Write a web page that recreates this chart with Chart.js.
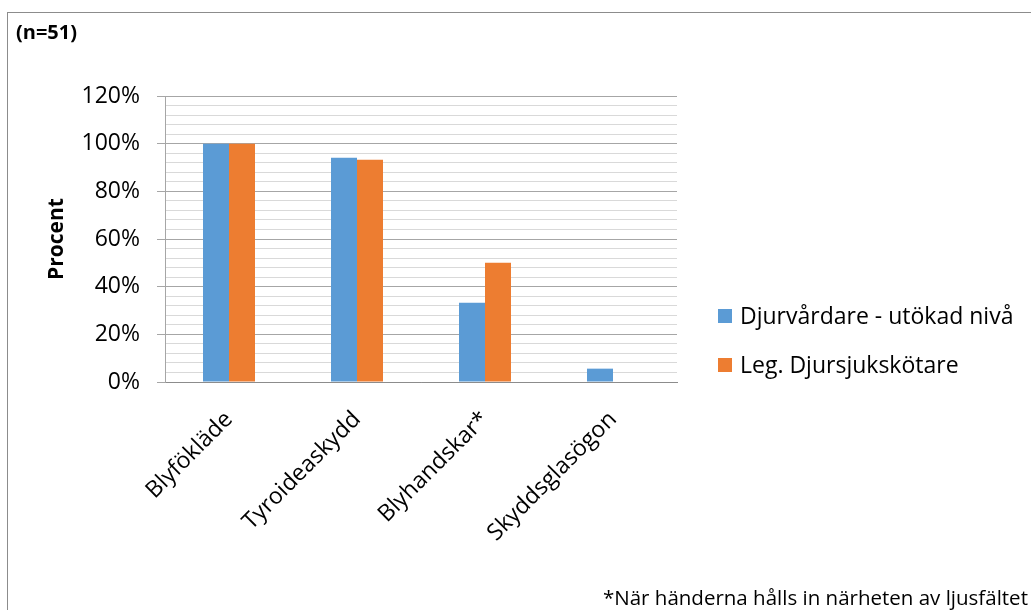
<!DOCTYPE html>
<html>
<head>
<meta charset="utf-8">
<script src="https://cdn.jsdelivr.net/npm/chart.js@4"></script>
<style>
  html, body { margin: 0; padding: 0; background: #fff; overflow: hidden; }
  #wrap { position: absolute; left: 0; top: 0; width: 1031px; height: 610px; }
</style>
</head>
<body>
<div id="wrap"><canvas id="skyddChart"></canvas></div>
<script>
// Data läst från bilden
const categories = ['Blyfökläde', 'Tyroideaskydd', 'Blyhandskar*', 'Skyddsglasögon'];
const seriesNames = ['Djurvårdare - utökad nivå', 'Leg. Djursjukskötare'];
const djurvardare = [100, 94.1, 33.3, 5.6];
const djursjukskotare = [100, 93.3, 50, 0];
const yTicks = [0, 20, 40, 60, 80, 100, 120];

const blue = '#5B9BD5';
const orange = '#ED7D31';
const fontFam = '"Open Sans", sans-serif';

// Ram, (n=51), legend och fotnot ritas direkt på canvasen
const extrasPlugin = {
    id: 'extras',
    beforeDraw(chart) {
        const c = chart.ctx;
        c.save();
        c.strokeStyle = '#8c8c8c';
        c.lineWidth = 1;
        c.strokeRect(7.5, 12.5, 1100, 700);
        c.restore();
    },
    afterDraw(chart) {
        const c = chart.ctx;
        c.save();
        c.fillStyle = '#000';
        c.textBaseline = 'middle';
        c.font = 'bold 20px ' + fontFam;
        c.fillText('(n=51)', 16, 33);

        // legend
        c.font = '23px ' + fontFam;
        const ys = [316, 365];
        chart.data.datasets.forEach((ds, i) => {
            c.fillStyle = ds.backgroundColor;
            c.fillRect(718, ys[i] - 7, 14, 14);
            c.fillStyle = '#000';
            c.fillText(ds.label, 740, ys[i] + 1);
        });

        // fotnot
        c.textBaseline = 'alphabetic';
        c.font = '20.5px ' + fontFam;
        c.fillText('*När händerna hålls in närheten av ljusfältet', 603, 605);
        c.restore();
    }
};

const ctx = document.getElementById('skyddChart').getContext('2d');
new Chart(ctx, {
    type: 'bar',
    data: {
        labels: categories,
        datasets: [{
            label: seriesNames[0],
            data: djurvardare,
            backgroundColor: blue,
            borderWidth: 0
        }, {
            label: seriesNames[1],
            data: djursjukskotare,
            backgroundColor: orange,
            borderWidth: 0
        }]
    },
    options: {
        responsive: true,
        maintainAspectRatio: false,
        animation: false,
        categoryPercentage: 0.40625,
        barPercentage: 1,
        layout: {
            padding: { top: 96, right: 354, bottom: 0, left: 0 }
        },
        plugins: {
            legend: { display: false },
            tooltip: { enabled: false }
        },
        scales: {
            x: {
                grid: { display: false },
                border: { color: '#8c8c8c', width: 1 },
                ticks: {
                    color: '#000',
                    font: { family: fontFam, size: 23 },
                    minRotation: 45,
                    maxRotation: 45,
                    padding: 16
                },
                afterFit(scale) { scale.height = 228; }
            },
            y: {
                min: 0,
                max: 120,
                border: { color: '#a6a6a6', width: 1 },
                grid: {
                    color: c => (c.tick && c.tick.value % 20 === 0) ? '#a6a6a6' : '#d9d9d9',
                    tickColor: c => (c.tick && c.tick.value % 20 === 0) ? '#a6a6a6' : 'rgba(0,0,0,0)',
                    tickLength: 8
                },
                ticks: {
                    stepSize: 4,
                    autoSkip: false,
                    color: '#000',
                    padding: 17,
                    font: { family: fontFam, size: 23 },
                    callback: v => yTicks.includes(v) ? v + '%' : ''
                },
                title: {
                    display: true,
                    text: 'Procent',
                    color: '#000',
                    font: { family: fontFam, size: 21, weight: 'bold' },
                    padding: { top: 44, bottom: 0 }
                },
                afterFit(scale) { scale.width = 165; }
            }
        }
    },
    plugins: [extrasPlugin]
});
</script>
</body>
</html>
